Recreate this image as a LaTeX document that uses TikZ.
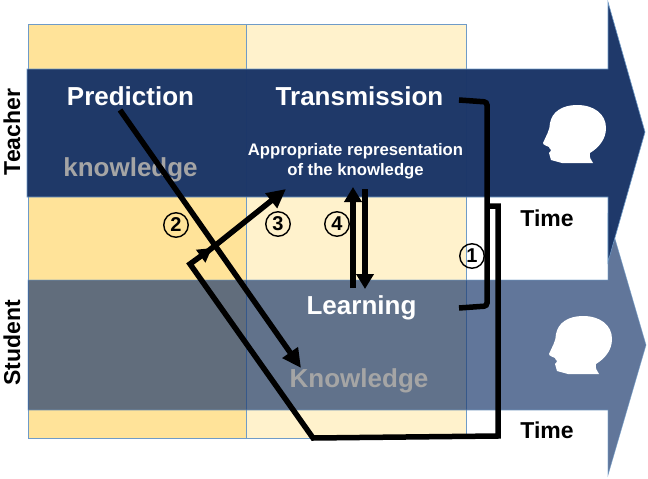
\documentclass[tikz,border=0pt]{standalone}
\usepackage{fontspec}
\setmainfont{Liberation Sans}
\usetikzlibrary{arrows.meta}
\definecolor{navy}{HTML}{1B3668}
\definecolor{navytwo}{HTML}{1F3C70}
\definecolor{edgeblue}{HTML}{6F9BC8}
\definecolor{yel}{HTML}{FFE399}
\definecolor{pale}{HTML}{FFF2CC}
\definecolor{softgray}{HTML}{A5A5A5}
\newcommand{\headshape}{(562,163) -- (551,160) .. controls (550,158) and (550,155) .. (549,153) .. controls (550,152) and (551,151) .. (551,150) .. controls (550,149) and (549,148) .. (549,147) .. controls (547,146) and (543,145) .. (543,143) .. controls (546,136) and (550,130) .. (550,123) .. controls (552,112) and (562,105) .. (577,105) .. controls (594,105) and (606,114) .. (606,128) .. controls (606,140) and (598,148) .. (590,153) .. controls (589,157) and (591,160) .. (593,163) -- cycle}
\tikzset{
  x=1pt,y=-1pt,
  band/.style={draw=edgeblue,line width=.6pt},
  column/.style={draw=edgeblue,line width=.7pt},
  head/.style={fill=white,draw=none},
  title/.style={font=\fontsize{26}{30}\selectfont\bfseries,inner sep=0pt,text=white},
  ghost/.style={font=\fontsize{26}{30}\selectfont\bfseries,inner sep=0pt,text=softgray},
  timelabel/.style={font=\fontsize{23}{26}\selectfont\bfseries,inner sep=0pt,text=black},
  rolelabel/.style={font=\fontsize{23}{26}\selectfont\bfseries,inner sep=0pt,text=black,rotate=90},
  small/.style={font=\fontsize{16.7}{20}\selectfont\bfseries,inner sep=0pt,text=white,align=center},
  num/.style={draw=black,circle,line width=1.4pt,minimum size=24.5pt,inner sep=0pt,font=\fontsize{20}{22}\selectfont\bfseries,text=black},
  conn/.style={draw=black,line width=5.5pt},
  tip/.style={-{Triangle[length=14pt,width=15pt]}},
  longtip/.style={-{Triangle[length=19pt,width=18pt]}},
  bigtip/.style={-{Triangle[length=15pt,width=17pt]}},
}
\begin{document}
\begin{tikzpicture}
\useasboundingbox (0,0) rectangle (648,479);
\fill[white] (0,0) rectangle (648,479);
% columns
\path[fill=yel,column] (28,24) rectangle (246,438);
\path[fill=pale,column] (246,24) rectangle (466,438);
% arrows
\path[band,fill=navytwo,opacity=.7] (28,280) -- (608,280) -- (608,215) -- (646,345) -- (608,475) -- (608,410) -- (28,410) -- cycle;
\path[band,fill=navy,opacity=.98] (27,69) -- (608,69) -- (608,2) -- (645,132) -- (608,262) -- (608,197) -- (27,197) -- cycle;
% heads
\path[head] \headshape;
\begin{scope}[shift={(6,211)}]
\path[head] \headshape;
\end{scope}
% labels
\node[title] (pred) at (130.5,96) {Prediction};
\node[title] (trans) at (359.5,96) {Transmission};
\node[ghost] (know1) at (130.5,169.5) {knowledge};
\node[small] (appr) at (355.5,161) {Appropriate representation\\of the knowledge};
\node[title] (learn) at (361.5,308) {Learning};
\node[ghost] (know2) at (359,381) {Knowledge};
\node[timelabel] (t1) at (547,218.5) {Time};
\node[timelabel] (t2) at (547,430) {Time};
\node[rolelabel] (teacher) at (12,132) {Teacher};
\node[rolelabel] (student) at (12,343) {Student};
\node[num] (n1) at (472,256) {1};
\node[num] (n2) at (176,225) {2};
\node[num] (n3) at (278,224) {3};
\node[num] (n4) at (337,224) {4};
% connector ends
\coordinate (a1) at (459,100);
\coordinate (a2) at (459,308);
\coordinate (b1) at (487,206);
\coordinate (b2) at (212,248);
\coordinate (c1) at (207,252);
\coordinate (c2) at (286,189);
\coordinate (d1) at (120,110);
\coordinate (d2) at (301,368);
\coordinate (e1) at (353,288);
\coordinate (e2) at (353,187);
\coordinate (f1) at (365,189);
\coordinate (f2) at (365,289);
% connectors
\draw[conn,rounded corners=3pt] (a1) -- (487,102) -- (487,306) -- (a2);
\draw[conn,miter limit=10,tip] (b1) -- (498,206) -- (498,436) -- (313,438) -- (190,264) -- (b2);
\draw[conn,longtip] (c1) -- (c2);
\draw[conn,longtip] (d1) -- (d2);
\draw[conn,line width=6pt,bigtip] (e1) -- (e2);
\draw[conn,line width=6pt,bigtip] (f1) -- (f2);
\end{tikzpicture}
\end{document}
